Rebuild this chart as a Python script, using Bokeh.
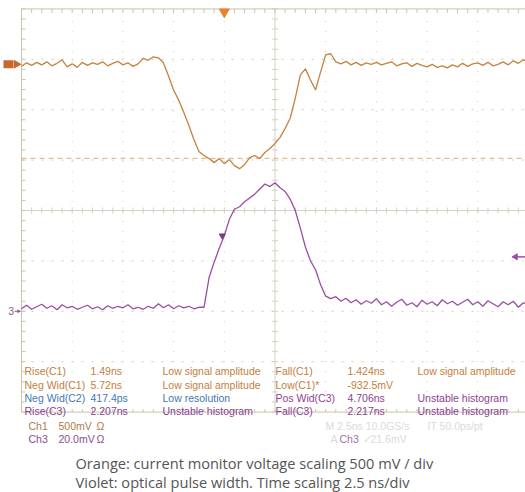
from bokeh.plotting import figure
from bokeh.models import Range1d, ColumnDataSource
from bokeh.embed import file_html
from bokeh.resources import INLINE
from bokeh.core.properties import value

# ---------------- data ----------------
time_ns = [
    -12.5, -12.25, -12.0, -11.75, -11.5, -11.25, -11.0, -10.75, -10.5, -10.25,
    -10.0, -9.75, -9.5, -9.25, -9.0, -8.75, -8.5, -8.25, -8.0, -7.75,
    -7.5, -7.25, -7.0, -6.75, -6.5, -6.25, -6.0, -5.75, -5.5, -5.25,
    -5.0, -4.75, -4.5, -4.25, -4.0, -3.75, -3.5, -3.25, -3.0, -2.75,
    -2.5, -2.25, -2.0, -1.75, -1.5, -1.25, -1.0, -0.75, -0.5, -0.25,
    0.0, 0.25, 0.5, 0.75, 1.0, 1.25, 1.5, 1.75, 2.0, 2.25,
    2.5, 2.75, 3.0, 3.25, 3.5, 3.75, 4.0, 4.25, 4.5, 4.75,
    5.0, 5.25, 5.5, 5.75, 6.0, 6.25, 6.5, 6.75, 7.0, 7.25,
    7.5, 7.75, 8.0, 8.25, 8.5, 8.75, 9.0, 9.25, 9.5, 9.75,
    10.0, 10.25, 10.5, 10.75, 11.0, 11.25, 11.5, 11.75, 12.0, 12.25,
    12.5,
]

# Ch1 (orange, current monitor), mV
ch1_mV = [
    -20, 15, -10, 20, -5, 25, -15, 10, 45, -25,
    5, -30, 20, -10, 15, 0, 25, -15, 10, 30,
    -5, 15, -20, 5, 60, 40, 75, 65, 15, -115,
    -255, -355, -475, -605, -745, -865, -905, -935, -975, -935,
    -985, -945, -1005, -1035, -995, -925, -905, -935, -875, -835,
    -785, -725, -635, -535, -335, -105, -45, -155, -255, -75,
    95, 105, 25, 5, 30, -5, 20, -10, 15, 0,
    20, -5, 10, 25, -15, 5, 15, -20, 10, -10,
    -25, 0, -30, -15, -35, -5, -25, 10, -20, 5,
    15, -10, 20, -15, 0, 25, -5, 35, 10, 45,
    20,
]

# Ch3 (violet, optical pulse), mV
ch3_mV = [
    1.0, 2.4, 0.8, 1.8, 2.8, 1.2, 2.2, 0.6, 2.6, 1.4,
    2.0, 0.8, 1.6, 2.4, 1.0, 1.8, 0.6, 2.2, 1.2, 2.0,
    1.4, 2.6, 1.0, 1.6, 0.8, 2.0, 1.2, 3.0, 1.4, 2.6,
    1.0, 2.2, 1.4, 2.0, 1.0, 1.6, 1.6, 13.4, 19.5, 25.0,
    30.0, 36.5, 40.5, 41.5, 43.5, 45.0, 46.5, 48.5, 50.5, 49.5,
    51.0, 49.0, 47.5, 44.5, 40.0, 33.0, 25.5, 20.0, 16.5, 10.5,
    6.0, 5.0, 5.8, 4.0, 5.2, 3.4, 4.6, 2.8, 4.2, 3.2,
    5.0, 2.6, 3.8, 2.0, 3.6, 4.8, 2.4, 3.4, 1.8, 4.4,
    2.8, 3.8, 2.2, 4.6, 3.0, 4.0, 2.4, 3.6, 4.8, 2.6,
    3.8, 2.0, 4.2, 3.0, 1.8, 3.8, 2.6, 4.0, 1.6, 3.4,
    2.4,
]

ch1_scale_mV = 500.0      # mV / div
ch1_offset_div = 2.9
ch3_scale_mV = 20.0       # mV / div
ch3_offset_div = -2.0
low_c1_mV = -932.5
trig_level_mV = 21.6
trig_time_ns = -2.5
rise_mark_t = -2.6
rise_mark_mV = 30.0

meas_left_name = ["Rise(C1)", "Neg Wid(C1)", "Neg Wid(C2)", "Rise(C3)"]
meas_left_val = ["1.49ns", "5.72ns", "417.4ps", "2.207ns"]
meas_left_stat = ["Low signal amplitude", "Low signal amplitude", "Low resolution", "Unstable histogram"]
meas_right_name = ["Fall(C1)", "Low(C1)*", "Pos Wid(C3)", "Fall(C3)"]
meas_right_val = ["1.424ns", "-932.5mV", "4.706ns", "2.217ns"]
meas_right_stat = ["Low signal amplitude", "", "Unstable histogram", "Unstable histogram"]
chan_name = ["Ch1", "Ch3"]
chan_scale = ["500mV", "20.0mV"]
chan_term = ["\u03a9", "\u03a9"]
caption = ["Orange: current monitor voltage scaling 500 mV / div",
           "Violet: optical pulse width. Time scaling 2.5 ns/div"]

# ---------------- layout helpers (reference px -> data) ----------------
PX_NS = 20.28
PX_DIV = 50.4


def tx(px):
    return -12.5 + (px - 21) / PX_NS


def dy(py):
    return (210 - py) / PX_DIV


ORANGE = "#c4843f"
VIOLET = "#9a4ea2"
GRID = "#d0ccb8"
BORDER = "#c9c5a8"

p = figure(width=525, height=492, x_range=Range1d(tx(0), tx(525)),
           y_range=Range1d(dy(492), dy(0)), output_backend="svg",
           toolbar_location=None, min_border=0, x_axis_type=None, y_axis_type=None)
p.grid.visible = False
p.outline_line_color = None
p.background_fill_color = "white"
p.border_fill_color = "white"

# ---------------- graticule ----------------
vdots = [-10, -7.5, -5, -2.5, 2.5, 5, 7.5, 10]
p.segment(x0=vdots, y0=[-4] * len(vdots), x1=vdots, y1=[4] * len(vdots),
          line_color=GRID, line_width=1, line_dash="1 9")
hdots = [-3, -2, -1, 1, 2, 3]
p.segment(x0=[-12.5] * len(hdots), y0=hdots, x1=[12.5] * len(hdots), y1=hdots,
          line_color=GRID, line_width=1, line_dash="2 8")
# center lines with ticks
p.segment(x0=[0, -12.5], y0=[-4, 0], x1=[0, 12.5], y1=[4, 0], line_color="#d4d2c4", line_width=1)
tt = [-12.5 + 0.5 * i for i in range(51)]
p.segment(x0=tt, y0=[-0.06] * len(tt), x1=tt, y1=[0.06] * len(tt), line_color="#d4d2c4", line_width=1)
dd = [-4 + 0.2 * i for i in range(41)]
p.segment(x0=[-0.15] * len(dd), y0=dd, x1=[0.15] * len(dd), y1=dd, line_color="#d4d2c4", line_width=1)
# border
p.segment(x0=[-12.5, -12.5, -12.5, 12.5], y0=[-4, 4, -4, -4], x1=[-12.5, 12.5, 12.5, 12.5], y1=[4, 4, -4, 4],
          line_color=BORDER, line_width=1)
p.segment(x0=[-12.5] * len(dd), y0=dd, x1=[-12.5 + 0.2] * len(dd), y1=dd, line_color=BORDER, line_width=1)
p.segment(x0=tt, y0=[4] * len(tt), x1=tt, y1=[3.92] * len(tt), line_color=BORDER, line_width=1)
p.segment(x0=tt, y0=[-4] * len(tt), x1=tt, y1=[-3.94] * len(tt), line_color=BORDER, line_width=1)

# Low(C1) cursor
low_div = ch1_offset_div + low_c1_mV / ch1_scale_mV
p.segment(x0=[-12.5], y0=[low_div], x1=[12.5], y1=[low_div], line_color="#e3ab70",
          line_width=1, line_dash="5 4")

# ---------------- traces ----------------
ch1_div = [ch1_offset_div + v / ch1_scale_mV for v in ch1_mV]
ch3_div = [ch3_offset_div + v / ch3_scale_mV for v in ch3_mV]
p.line(time_ns, ch1_div, line_color=ORANGE, line_width=1.3)
p.line(time_ns, ch3_div, line_color=VIOLET, line_width=1.3)

# markers
p.scatter([trig_time_ns], [4 - 0.06], marker="inverted_triangle", size=10,
          fill_color="#e8842c", line_color="#e8842c")
p.scatter([rise_mark_t], [ch3_offset_div + rise_mark_mV / ch3_scale_mV], marker="inverted_triangle",
          size=6, fill_color="#7e3a88", line_color="#7e3a88")
trig_div = ch3_offset_div + trig_level_mV / ch3_scale_mV
p.segment(x0=[tx(516)], y0=[trig_div], x1=[tx(525)], y1=[trig_div], line_color=VIOLET, line_width=1.5)
p.scatter([tx(515)], [trig_div], marker="triangle", angle=1.5708, size=6,
          fill_color=VIOLET, line_color=VIOLET)
# channel ground markers
p.quad(left=[tx(3)], right=[tx(13)], bottom=[ch1_offset_div - 0.08], top=[ch1_offset_div + 0.08],
       fill_color="#c8682e", line_color=None)
p.scatter([tx(16)], [ch1_offset_div], marker="triangle", angle=-1.5708, size=9,
          fill_color="#c8682e", line_color=None)
p.text([tx(8)], [ch3_offset_div], text=["3"], text_color="#8a5a8c", text_font=value("Liberation Sans"),
       text_font_size=value("10px"), text_baseline="middle", text_align="left")
p.segment(x0=[tx(14)], y0=[ch3_offset_div], x1=[tx(20)], y1=[ch3_offset_div], line_color="#8a5a8c", line_width=1)
p.scatter([tx(18)], [ch3_offset_div], marker="triangle", angle=-1.5708, size=4,
          fill_color="#8a5a8c", line_color=None)

# ---------------- measurement table ----------------
C_OR = "#c2803e"
C_BL = "#3f78b5"
C_VI = "#8c3f94"
row_y = [dy(370), dy(384), dy(397), dy(410)]
left_cols = [C_OR, C_OR, C_BL, C_VI]
right_cols = [C_OR, C_OR, C_VI, C_VI]
xs, ys, ts, cs = [], [], [], []
for i in range(4):
    for colx, txt in ((24, meas_left_name[i]), (90, meas_left_val[i]), (162, meas_left_stat[i])):
        xs.append(tx(colx)); ys.append(row_y[i]); ts.append(txt); cs.append(left_cols[i])
    for colx, txt in ((275, meas_right_name[i]), (347, meas_right_val[i]), (417, meas_right_stat[i])):
        xs.append(tx(colx)); ys.append(row_y[i]); ts.append(txt); cs.append(right_cols[i])
ch_y = [dy(425), dy(438)]
ch_cols = ["#b27a4c", "#8a4c90"]
for i in range(2):
    for colx, txt in ((28, chan_name[i]), (58, chan_scale[i]), (96, chan_term[i])):
        xs.append(tx(colx)); ys.append(ch_y[i]); ts.append(txt); cs.append(ch_cols[i])
# faded timebase info
faded = [(325, 425, "M 2.5ns  10.0GS/s", "#dadada"), (427, 425, "IT 50.0ps/pt", "#dadada"),
         (330, 438, "A", "#dadada"), (339, 438, "Ch3", "#a86eb0"), (362, 438, "\u2713", "#dadada"),
         (370, 438, "21.6mV", "#dadada")]
for fx, fy, ft, fc in faded:
    xs.append(tx(fx)); ys.append(dy(fy)); ts.append(ft); cs.append(fc)
src = ColumnDataSource(dict(x=xs, y=ys, text=ts, color=cs))
p.text(x="x", y="y", text="text", text_color="color", source=src, text_font=value("Liberation Sans"),
       text_font_size=value("10.5px"), text_baseline="middle", text_align="left")

# ---------------- caption ----------------
p.text([tx(75), tx(75)], [dy(462), dy(481)], text=caption, text_color="#555555",
       text_font=value("Open Sans"), text_font_size=value("14.6px"), text_baseline="middle",
       text_align="left")

open("out.html", "w").write(file_html(p, INLINE))
